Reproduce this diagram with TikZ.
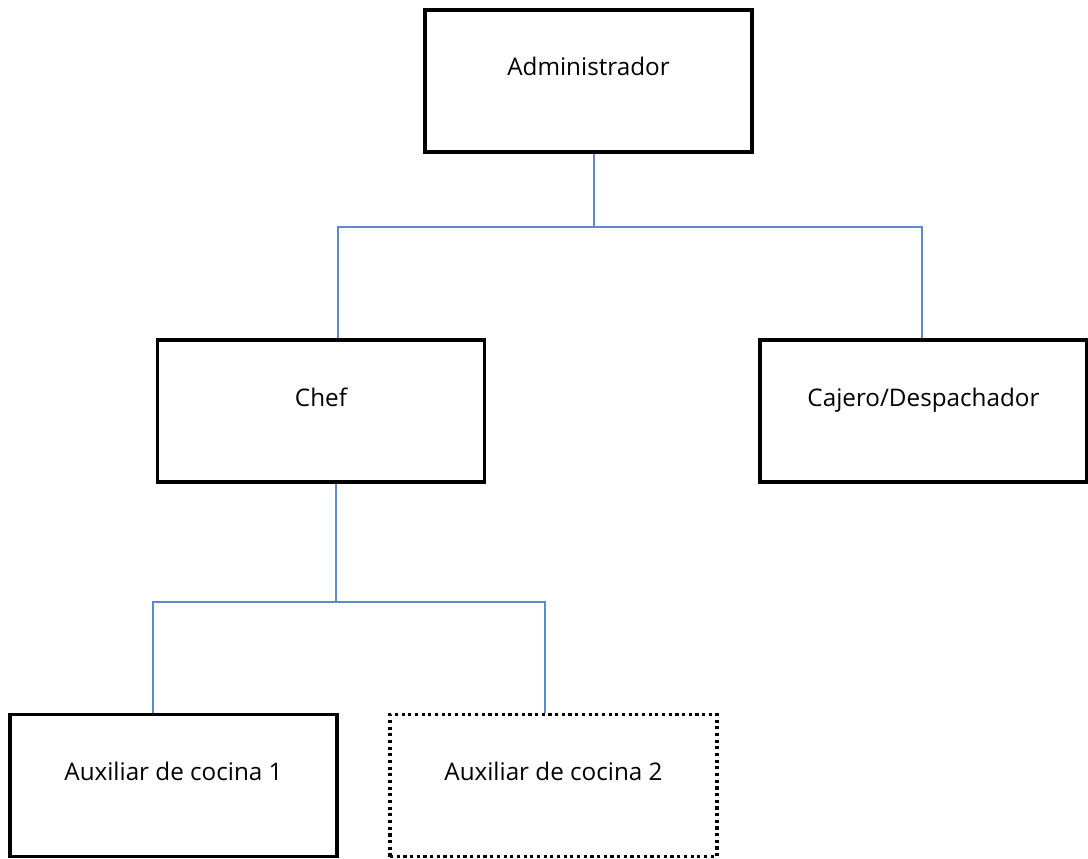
\documentclass[tikz,border=0pt]{standalone}
\usepackage{fontspec}
\setmainfont{Open Sans}
\usepackage{tikz}
\usetikzlibrary{positioning}

\definecolor{linkblue}{RGB}{91,139,206}

\begin{document}
\begin{tikzpicture}[
box/.style={draw=black, line width=1.8pt, inner sep=0pt,
  minimum width=6.54cm, text height=1.32cm, text depth=1.52cm,
  font=\fontsize{13.8}{16}\selectfont},
openbox/.style={box, dotted},
link/.style={draw=linkblue, line width=1.2pt}]
\useasboundingbox (0,0) rectangle (21.76,17.16);
\node[box] (admin) at (11.77,15.54) {Administrador};
\node[box] (chef) at (6.42,8.94) {Chef};
\node[box] (cajero) at (18.47,8.94) {Cajero/Despachador};
\node[box] (aux1) at (3.47,1.45) {Auxiliar de cocina 1};
\node[openbox] (aux2) at (11.07,1.45) {Auxiliar de cocina 2};
% ramas
\draw[link] ([xshift=0.11cm]admin.south) -- ++(0,-1.46) coordinate (top);
\draw[link] (top) -| ([xshift=0.34cm]chef.north);
\draw[link] (top) -| ([xshift=-0.03cm]cajero.north);
\draw[link] ([xshift=0.30cm]chef.south) -- ++(0,-2.36) coordinate (mid);
\draw[link] (mid) -| ([xshift=-0.41cm]aux1.north);
\draw[link] (mid) -| ([xshift=-0.17cm]aux2.north);
\end{tikzpicture}
\end{document}
